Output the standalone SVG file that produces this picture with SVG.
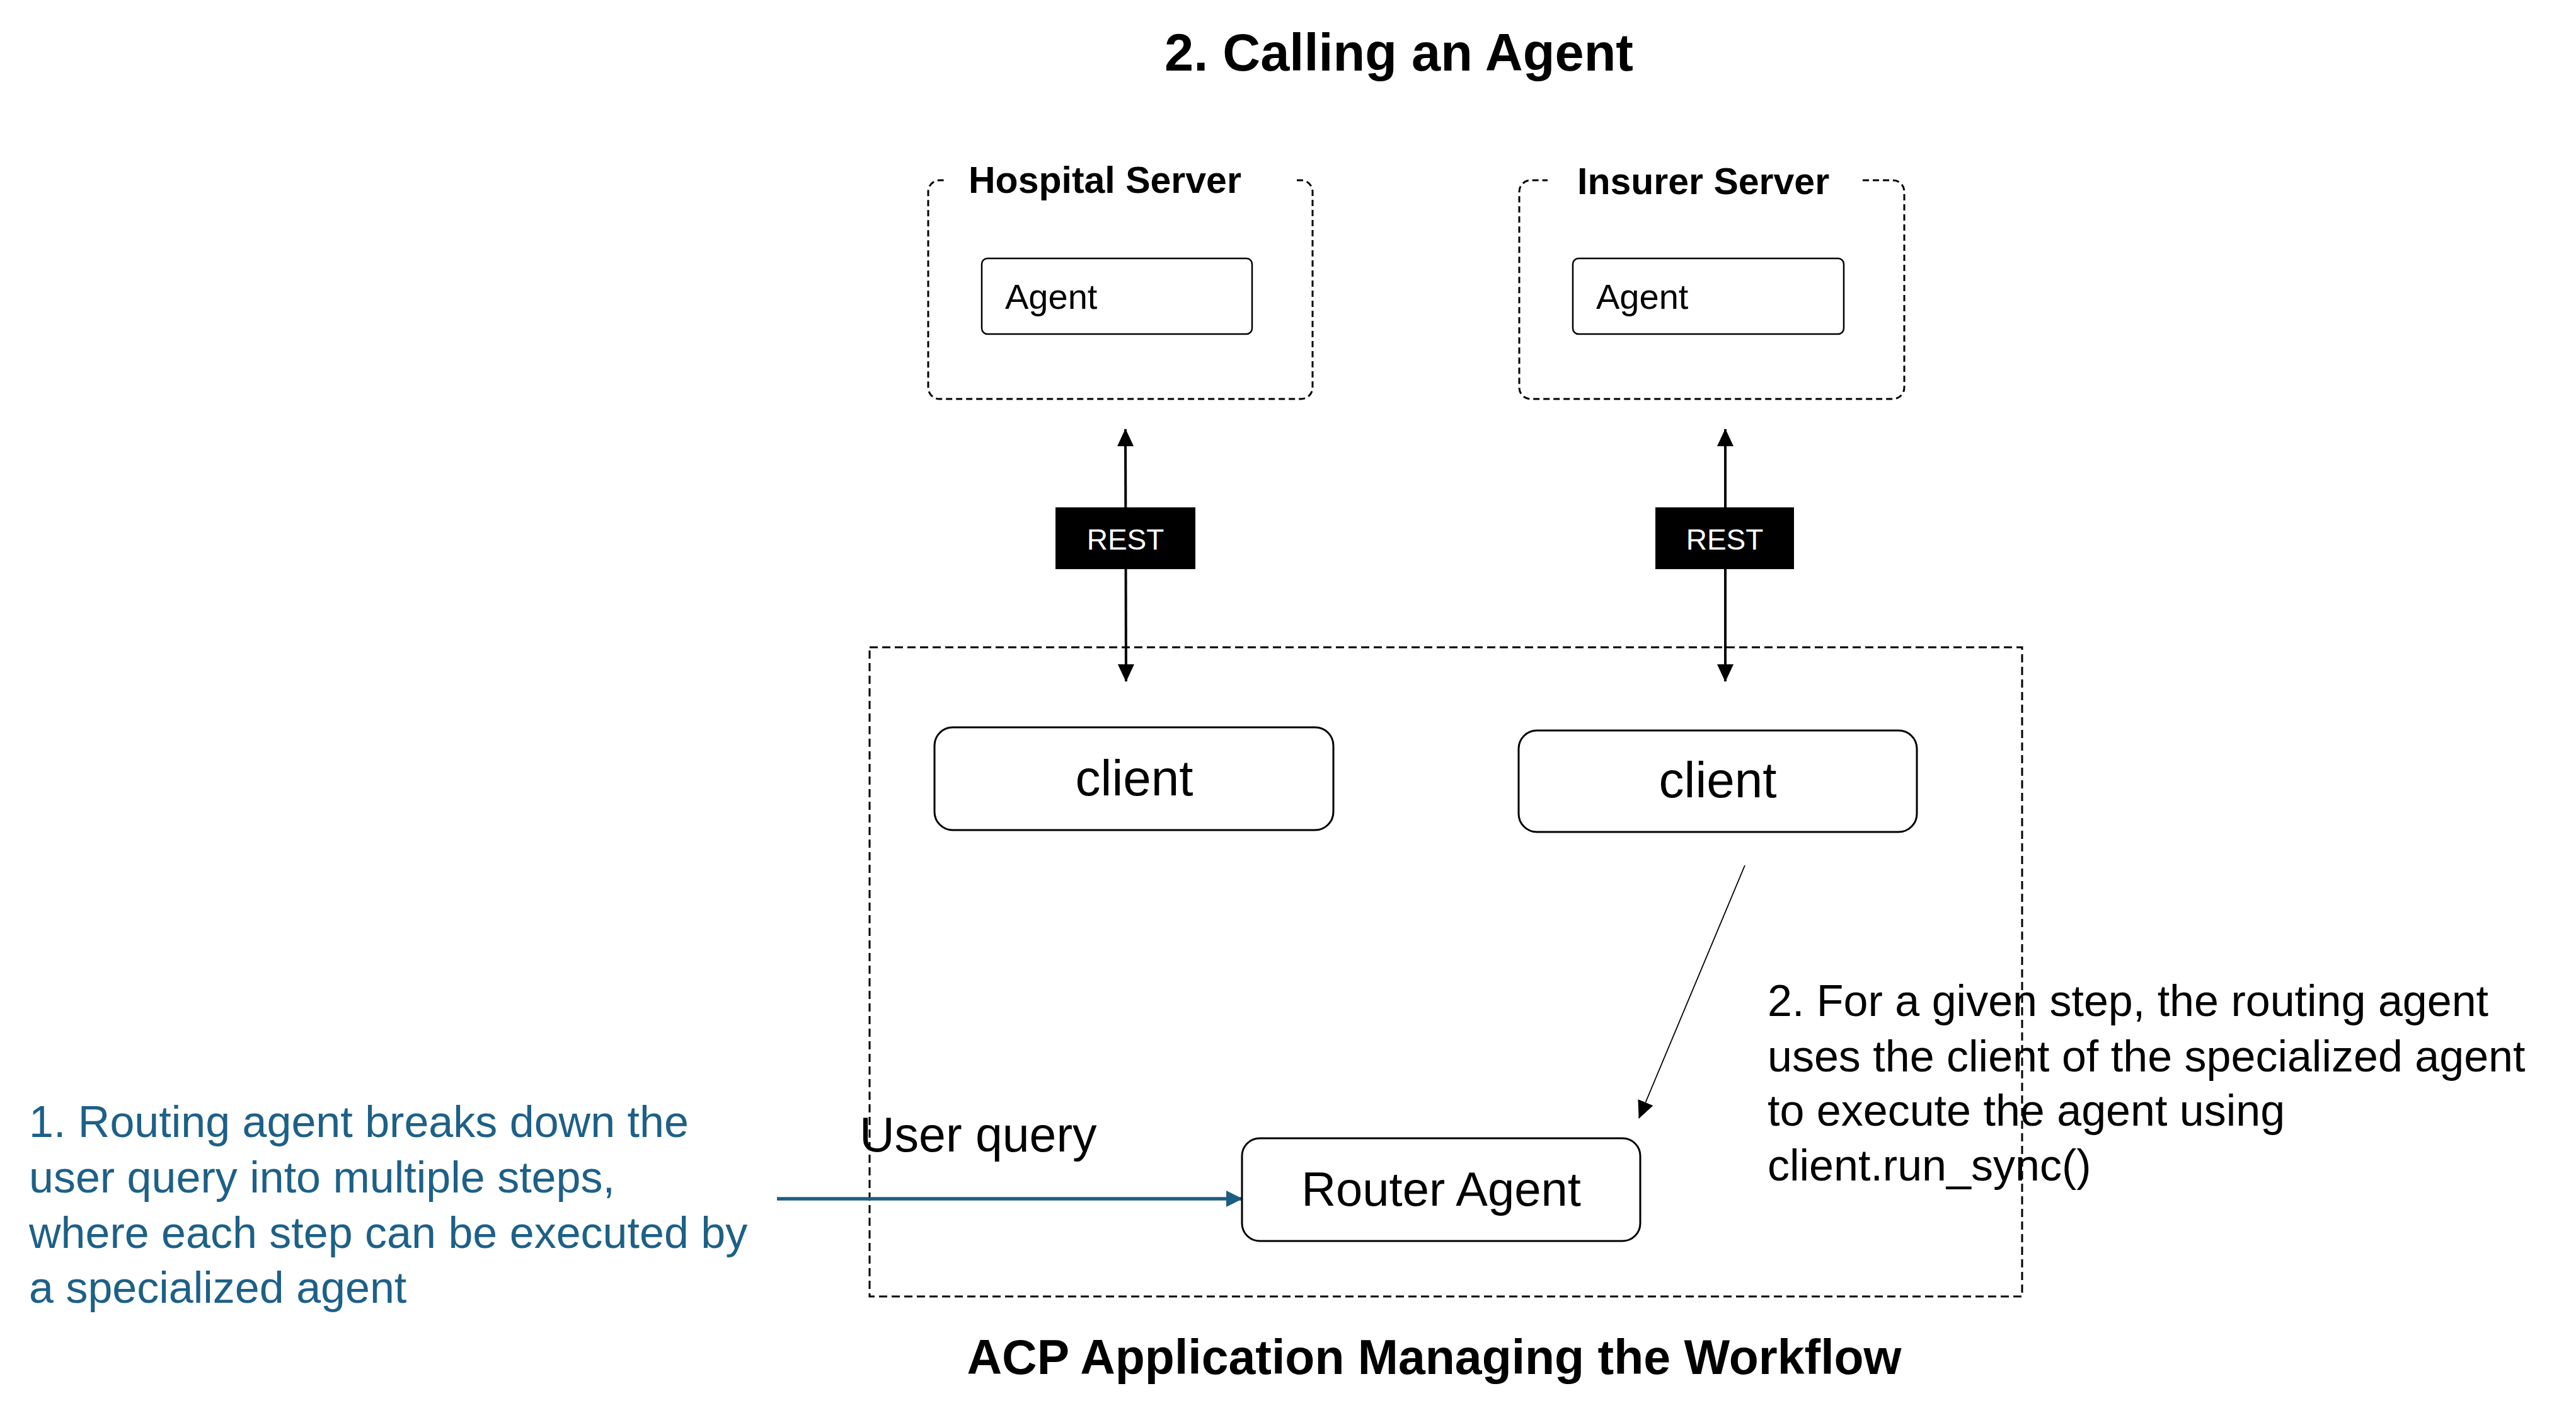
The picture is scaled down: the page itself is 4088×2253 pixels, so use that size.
<svg xmlns="http://www.w3.org/2000/svg" width="4088" height="2253" viewBox="0 0 4088 2253">
  <style>
    .t { font-family: "Liberation Sans", Arial, sans-serif; fill: #000; }
    .b { font-weight: bold; }
    .srv { fill: none; stroke: #000; stroke-width: 3; stroke-dasharray: 10 6; }
    .app { fill: none; stroke: #000; stroke-width: 3; stroke-dasharray: 13 7; }
    .node { fill: #fff; stroke: #000; stroke-width: 3; }
    .agent { fill: #fff; stroke: #000; stroke-width: 2.5; }
    .note { font-family: "Liberation Sans", Arial, sans-serif; font-size: 70px; }
  </style>
  <defs>
    <marker id="ah" markerUnits="userSpaceOnUse" markerWidth="28" markerHeight="26" viewBox="0 0 28 26" refX="27" refY="13" orient="auto-start-reverse">
      <path d="M0,0 L28,13 L0,26 z" fill="#000"/>
    </marker>
    <marker id="ahBlue" markerUnits="userSpaceOnUse" markerWidth="26" markerHeight="26" viewBox="0 0 26 26" refX="25" refY="13" orient="auto">
      <path d="M0,0 L26,13 L0,26 z" fill="#1B5E82"/>
    </marker>
    <marker id="ahThin" markerUnits="userSpaceOnUse" markerWidth="28" markerHeight="26" viewBox="0 0 28 26" refX="27" refY="13" orient="auto">
      <path d="M0,0 L28,13 L0,26 z" fill="#000"/>
    </marker>
  </defs>

  <rect width="4088" height="2253" fill="#fff"/>

  <text id="title" class="t b" x="2220" y="112" font-size="83" text-anchor="middle">2. Calling an Agent</text>

  <g id="hospital-server">
    <path class="srv" d="M2058,286 H2065 A18,18 0 0 1 2083,304 V615 A18,18 0 0 1 2065,633 H1491 A18,18 0 0 1 1473,615 V304 A18,18 0 0 1 1491,286 H1500"/>
    <text class="t b" x="1537" y="306" font-size="59">Hospital Server</text>
  </g>
  <g id="hospital-agent">
    <rect class="agent" x="1558" y="410" width="429" height="120" rx="9"/>
    <text class="t" x="1595" y="490" font-size="56">Agent</text>
  </g>

  <g id="insurer-server">
    <path class="srv" d="M2956,286 H3004 A18,18 0 0 1 3022,304 V615 A18,18 0 0 1 3004,633 H2429 A18,18 0 0 1 2411,615 V304 A18,18 0 0 1 2429,286 H2456"/>
    <text class="t b" x="2503" y="308" font-size="59">Insurer Server</text>
  </g>
  <g id="insurer-agent">
    <rect class="agent" x="2496" y="410" width="430" height="120" rx="9"/>
    <text class="t" x="2533" y="490" font-size="56">Agent</text>
  </g>

  <g id="acp-application">
    <rect class="app" x="1380" y="1027" width="1829" height="1030"/>
    <text class="t b" x="2276" y="2180" font-size="77" text-anchor="middle">ACP Application Managing the Workflow</text>
  </g>

  <g id="connectors">
    <line x1="1786" y1="681" x2="1787" y2="1081" stroke="#000" stroke-width="4" marker-start="url(#ah)" marker-end="url(#ah)"/>
    <line x1="2738" y1="681" x2="2738" y2="1081" stroke="#000" stroke-width="4" marker-start="url(#ah)" marker-end="url(#ah)"/>
    <line x1="1233" y1="1902" x2="1971" y2="1902" stroke="#1B5E82" stroke-width="5.5" marker-end="url(#ahBlue)"/>
    <line x1="2769" y1="1373" x2="2601" y2="1774" stroke="#000" stroke-width="1.8" marker-end="url(#ahThin)"/>
  </g>

  <g id="rest-hospital">
    <rect x="1675" y="805" width="222" height="98" fill="#000"/>
    <text class="t" x="1786" y="872" font-size="46" fill="#fff" style="fill:#fff" text-anchor="middle">REST</text>
  </g>
  <g id="rest-insurer">
    <rect x="2627" y="805" width="220" height="98" fill="#000"/>
    <text class="t" x="2737" y="872" font-size="46" style="fill:#fff" text-anchor="middle">REST</text>
  </g>

  <g id="client-hospital">
    <rect class="node" x="1483" y="1154" width="633" height="163" rx="29"/>
    <text class="t" x="1800" y="1262" font-size="80" text-anchor="middle">client</text>
  </g>
  <g id="client-insurer">
    <rect class="node" x="2410" y="1159" width="632" height="161" rx="29"/>
    <text class="t" x="2726" y="1265" font-size="80" text-anchor="middle">client</text>
  </g>

  <g id="router-agent">
    <rect class="node" x="1971" y="1806" width="632" height="163" rx="28"/>
    <text class="t" x="2287" y="1913" font-size="76" text-anchor="middle">Router Agent</text>
  </g>

  <text id="user-query" class="t" x="1364" y="1827" font-size="77">User query</text>

  <g id="note-1">
    <text class="note" fill="#1D6088">
      <tspan x="46" y="1804">1. Routing agent breaks down the</tspan>
      <tspan x="46" y="1892">user query into multiple steps,</tspan>
      <tspan x="46" y="1980">where each step can be executed by</tspan>
      <tspan x="46" y="2067">a specialized agent</tspan>
    </text>
  </g>

  <g id="note-2">
    <text class="note" fill="#000">
      <tspan x="2805" y="1612">2. For a given step, the routing agent</tspan>
      <tspan x="2805" y="1700">uses the client of the specialized agent</tspan>
      <tspan x="2805" y="1786">to execute the agent using</tspan>
      <tspan x="2805" y="1873">client.run_sync()</tspan>
    </text>
  </g>
</svg>
